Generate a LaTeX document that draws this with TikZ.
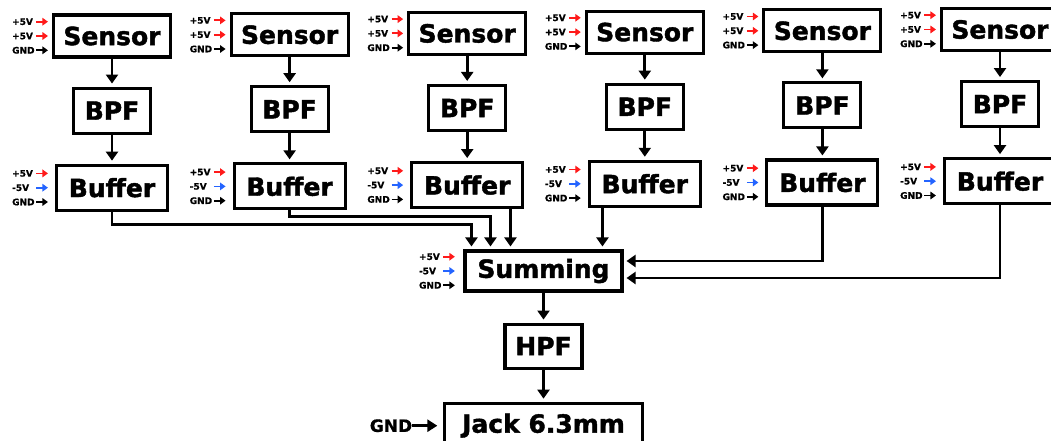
\documentclass[tikz,border=0pt]{standalone}
\usepackage{fontspec}
\setmainfont{DejaVu Sans}
\newfontfamily\heavyfont{DejaVu Sans Bold}[FakeBold=1.6]
\newfontfamily\railfont{DejaVu Sans Bold}[FakeBold=0.8]
\usepackage{tikz}
\usetikzlibrary{arrows.meta,positioning,calc}
\definecolor{RailRed}{HTML}{FF1A1A}
\definecolor{RailBlue}{HTML}{2464FF}

% three supply pins, #1 = arrow tip, #2/#3 = middle label and colour
\newcommand{\rails}[3]{%
  \foreach \lab/\col/\dy [count=\n] in {+5V/RailRed/-14.3,#2/#3/0,GND/black/14.3}{%
    \node[rail] (#1-l\n) at ($(#1)+(-36,\dy)$) {\lab};
    \coordinate (#1-t\n) at ($(#1)+(0,\dy)$);
    \draw[railarr,draw=\col] (#1-l\n.east) -- (#1-t\n);
  }}

\begin{document}
\begin{tikzpicture}[
  x=1pt,y=-1pt,
  block/.style={draw=black,line width=3.1pt,inner sep=0pt,
    font=\heavyfont\fontsize{25}{30}\selectfont},
  sensorbox/.style={block,minimum width=117pt,minimum height=42pt},
  bpfbox/.style={block,minimum width=77pt,minimum height=45pt},
  bufbox/.style={block,minimum width=111pt,minimum height=45pt},
  flow/.style={-{Triangle[length=9pt,width=12pt]},line width=2.8pt,
    shorten >=3pt},
  rail/.style={font=\railfont\fontsize{9}{10}\selectfont,inner sep=0pt,
    anchor=west,text width=24pt,align=left},
  railarr/.style={-{Triangle[length=5.5pt,width=7.5pt]},line width=1.8pt}
]
\useasboundingbox (0,0) rectangle (1051,441);
\clip (0,0) rectangle (1051,441);
\fill[white] (0,0) rectangle (1051,441);

% six sensor chains
\foreach \i in {0,...,5}{
  \node[sensorbox] (sen\i) at ({112+177.6*\i},{36-1.3*\i}) {Sensor};
  \node[bpfbox,below=28pt of sen\i] (bpf\i) {BPF};
  \node[bufbox,below=29pt of bpf\i] (buf\i) {Buffer};
  \draw[flow] (sen\i) -- (bpf\i);
  \draw[flow] (bpf\i) -- (buf\i);
  \coordinate (sp\i) at ($(sen\i.west)+(-4,0)$);
  \coordinate (bp\i) at ($(buf\i.west)+(-7,0)$);
  \rails{sp\i}{+5V}{RailRed}
  \rails{bp\i}{-5V}{RailBlue}
}

% mixer and output
\node[block,minimum width=157pt,minimum height=40pt] (sum) at (543.5,271)
  {Summing};
\node[bpfbox,minimum height=44pt,below=30pt of sum] (hpf) {HPF};
\node[block,minimum width=198pt,minimum height=45pt,below=32pt of hpf]
  (jack) {Jack 6.3mm};
\draw[flow] (sum) -- (hpf);
\draw[flow] (hpf) -- (jack);
\coordinate (smp) at ($(sum.west)+(-8.6,0)$);
\rails{smp}{-5V}{RailBlue}

\node[font=\railfont\fontsize{17}{20}\selectfont,inner sep=0pt,anchor=east]
  (jgnd) at ($(jack.west)+(-30.6,0)$) {GND};
\coordinate (jtip) at ($(jack.west)+(-5.6,0)$);
\draw[-{Triangle[length=10pt,width=12pt]},line width=2.6pt] (jgnd.east) --
  (jtip);

% buffer outputs into the summing stage
\coordinate (in1) at ($(sum.north west)+(8,0)$);
\coordinate (in2) at ($(sum.north west)+(27,0)$);
\coordinate (in3) at ($(sum.north west)+(47,0)$);
\coordinate (in4) at ($(sum.north west)+(139,0)$);
\coordinate (in5) at ($(sum.east)+(0,-10)$);
\coordinate (in6) at ($(sum.east)+(0,7)$);
\draw[flow] (buf0.south) |- ($(in1)+(0,-25)$) -- (in1);
\draw[flow] (buf1.south) |- ($(in2)+(0,-33)$) -- (in2);
\draw[flow] (buf2.south -| in3) -- (in3);
\draw[flow] (buf3.south -| in4) -- (in4);
\draw[flow] (buf4.south) |- (in5);
\draw[flow] (buf5.south) |- (in6);
\end{tikzpicture}
\end{document}
